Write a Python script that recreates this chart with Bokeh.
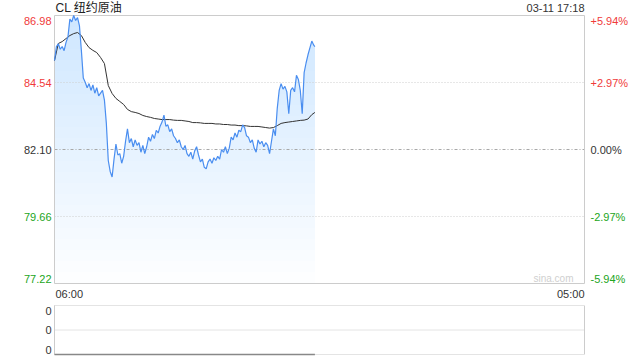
import numpy as np
from bokeh.plotting import figure
from bokeh.models import Range1d, Label
from bokeh.layouts import column
from bokeh.embed import file_html
from bokeh.resources import INLINE

# ---------------- data ----------------
title_text = "CL 纽约原油"
time_stamp = "03-11 17:18"
prev_close = 82.10
price_ticks = [86.98, 84.54, 82.10, 79.66, 77.22]
pct_labels = ["+5.94%", "+2.97%", "0.00%", "-2.97%", "-5.94%"]
tick_colors = ["#f03a3a", "#f03a3a", "#333333", "#22a522", "#22a522"]
time_labels = ["06:00", "05:00"]
session_minutes = 1380          # 06:00 -> 05:00 next day
last_minute = 678               # 17:18
price_step = 5                  # minutes between price samples
price = [
    85.34, 85.85, 85.95, 85.75, 85.85, 85.70, 86.00, 86.20, 86.85, 86.75,
    86.98, 86.80, 86.90, 86.60, 85.70, 84.70, 84.55, 84.35, 84.50, 84.25,
    84.45, 84.15, 84.35, 84.05, 84.15, 84.25, 83.90, 83.05, 81.70, 81.30,
    81.10, 81.75, 82.30, 81.90, 81.95, 81.60, 81.85, 82.40, 82.85, 82.35,
    82.50, 82.20, 82.45, 82.25, 82.35, 82.00, 82.25, 81.95, 82.20, 82.55,
    82.40, 82.65, 82.50, 82.80, 82.70, 82.95, 83.10, 83.35, 82.95, 83.00,
    82.75, 82.85, 82.60, 82.50, 82.35, 82.45, 82.20, 82.10, 82.25, 81.95,
    81.85, 82.00, 81.75, 82.05, 82.20, 81.90, 81.65, 81.75, 81.45, 81.40,
    81.65, 81.75, 81.60, 81.80, 81.70, 81.85, 81.75, 82.10, 82.00, 82.20,
    81.95, 82.15, 82.55, 82.45, 82.70, 82.55, 82.80, 82.75, 83.00, 82.90,
    82.60, 82.55, 82.35, 82.45, 82.15, 82.00, 82.45, 82.30, 82.40, 82.20,
    82.35, 82.25, 81.95, 82.40, 82.85, 82.60, 83.60, 84.25, 84.50, 84.30,
    84.40, 84.20, 83.40, 84.25, 84.35, 84.20, 84.80, 84.65, 84.25, 83.40,
    84.90, 85.25, 85.55, 85.80, 86.05, 85.90, 85.85,
]
avg_step = 10
avg_price = [
    85.34, 85.96, 86.03, 86.14, 86.25, 86.32, 86.36, 86.25, 86.00, 85.81,
    85.71, 85.63, 85.45, 85.23, 84.43, 84.14, 83.96, 83.85, 83.74, 83.56,
    83.48, 83.45, 83.41, 83.34, 83.30, 83.27, 83.23, 83.21, 83.19, 83.19,
    83.19, 83.17, 83.16, 83.16, 83.14, 83.12, 83.08, 83.08, 83.07, 83.05,
    83.05, 83.05, 83.03, 83.03, 83.01, 83.01, 82.99, 82.99, 82.97, 82.97,
    82.96, 82.94, 82.94, 82.94, 82.92, 82.90, 82.88, 82.90, 82.97, 83.05,
    83.08, 83.10, 83.12, 83.14, 83.16, 83.17, 83.21, 83.37, 83.45,
]
vol_labels = ["0", "0", "0"]
vol_levels = [2, 1, 0]

# ---------------- derived ----------------
price = np.array(price)
t_price = np.append(np.arange(len(price) - 1) * price_step, last_minute)
avg_price = np.array(avg_price)
t_avg = np.append(np.arange(len(avg_price) - 1) * avg_step, last_minute)
volume = np.zeros_like(price)

FONT = "Liberation Sans, Arial, Noto Sans CJK SC"
LINE_BLUE = "#4a8ef0"
FILL_BLUE = "#5a95ee"

ymin, ymax = price_ticks[-1], price_ticks[0]

# plot-area geometry (pixels) -> ranges so that the whole canvas is the frame
W = 640
PL, PR = 54, 584            # plot area left/right
H1, PT, PB = 300, 15, 283   # top panel height, plot area top/bottom
H2, VT, VB = 60, 5, 54      # volume panel height, area top/bottom (local)

mpp = session_minutes / (PR - PL)
x_range = Range1d(-PL * mpp, session_minutes + (W - PR) * mpp)
upp = (ymax - ymin) / (PB - PT)
y_range1 = Range1d(ymin - (H1 - PB) * upp, ymax + PT * upp)
vmax = vol_levels[0]
vpp = vmax / (VB - VT)
y_range2 = Range1d(-(H2 - VB) * vpp, vmax + VT * vpp)

def base_fig(h, yr):
    f = figure(width=W, height=h, output_backend="svg", toolbar_location=None,
               x_axis_type=None, y_axis_type=None, x_range=x_range, y_range=yr,
               min_border=0, min_border_left=0, min_border_right=0,
               min_border_top=0, min_border_bottom=0)
    f.xgrid.visible = False
    f.ygrid.visible = False
    f.outline_line_color = None
    f.background_fill_color = "white"
    f.border_fill_color = "white"
    return f

# ---------------- main price panel ----------------
p1 = base_fig(H1, y_range1)

# gradient-like fill under the price line (layered translucent areas)
n_layers = 24
for k in range(n_layers):
    lvl = ymin + k * (ymax - ymin) / n_layers
    p1.varea(x=t_price, y1=np.full_like(price, lvl), y2=np.maximum(price, lvl),
             fill_color=FILL_BLUE, fill_alpha=0.013)

# grid lines
for v in price_ticks[1:-1]:
    if v == prev_close:
        p1.segment(x0=0, y0=v, x1=session_minutes, y1=v, line_color="#a8a8a8",
                   line_width=1, line_dash="3 2 1 2")
    else:
        p1.segment(x0=0, y0=v, x1=session_minutes, y1=v, line_color="#cfcfcf",
                   line_width=1, line_dash="1 2")

# frame
p1.quad(left=0, right=session_minutes, bottom=ymin, top=ymax,
        fill_color=None, line_color="#cccccc", line_width=1)

p1.line(t_avg, avg_price, line_color="#333333", line_width=1)
p1.line(t_price, price, line_color=LINE_BLUE, line_width=1.2)

# tick labels
for i, (v, txt, col) in enumerate(zip(price_ticks, pct_labels, tick_colors)):
    yoff = -5 if i == 0 else (5 if i == len(price_ticks) - 1 else 0)
    p1.add_layout(Label(x=0, y=v, x_offset=-3, y_offset=yoff, text=f"{v:.2f}",
                        text_align="right", text_baseline="middle",
                        text_font=FONT, text_font_size="11px", text_color=col))
    p1.add_layout(Label(x=session_minutes, y=v, x_offset=6, y_offset=yoff, text=txt,
                        text_align="left", text_baseline="middle",
                        text_font=FONT, text_font_size="11px", text_color=col))

# title + timestamp
p1.add_layout(Label(x=0, y=ymax, x_offset=1, y_offset=8, text=title_text,
                    text_align="left", text_baseline="middle",
                    text_font=FONT, text_font_size="12px", text_color="#222222"))
p1.add_layout(Label(x=session_minutes, y=ymax, x_offset=0, y_offset=8, text=time_stamp,
                    text_align="right", text_baseline="middle",
                    text_font=FONT, text_font_size="11px", text_color="#333333"))

# time axis labels
p1.add_layout(Label(x=0, y=ymin, x_offset=1, y_offset=-10, text=time_labels[0],
                    text_align="left", text_baseline="middle",
                    text_font=FONT, text_font_size="11px", text_color="#333333"))
p1.add_layout(Label(x=session_minutes, y=ymin, x_offset=0, y_offset=-10, text=time_labels[1],
                    text_align="right", text_baseline="middle",
                    text_font=FONT, text_font_size="11px", text_color="#333333"))

# watermark
p1.add_layout(Label(x=session_minutes, y=ymin, x_offset=-11, y_offset=5, text="sina.com",
                    text_align="right", text_baseline="middle",
                    text_font=FONT, text_font_size="10px", text_color="#cfcfcf"))

# ---------------- volume panel ----------------
p2 = base_fig(H2, y_range2)

for lv in vol_levels:
    p2.segment(x0=0, y0=lv, x1=session_minutes, y1=lv, line_color="#c8c8c8",
               line_width=1, line_dash="1 1")
for lx in [0, session_minutes]:
    p2.segment(x0=lx, y0=0, x1=lx, y1=vmax, line_color="#cccccc", line_width=1)

p2.line(t_price, volume, line_color="#888888", line_width=1.5)

for i, (lv, txt) in enumerate(zip(vol_levels, vol_labels)):
    yoff = -5 if i == 0 else (5 if i == len(vol_levels) - 1 else 0)
    p2.add_layout(Label(x=0, y=lv, x_offset=-3, y_offset=yoff, text=txt,
                        text_align="right", text_baseline="middle",
                        text_font=FONT, text_font_size="11px", text_color="#333333"))

layout = column(p1, p2, spacing=0)
open("out.html", "w").write(file_html(layout, INLINE))
